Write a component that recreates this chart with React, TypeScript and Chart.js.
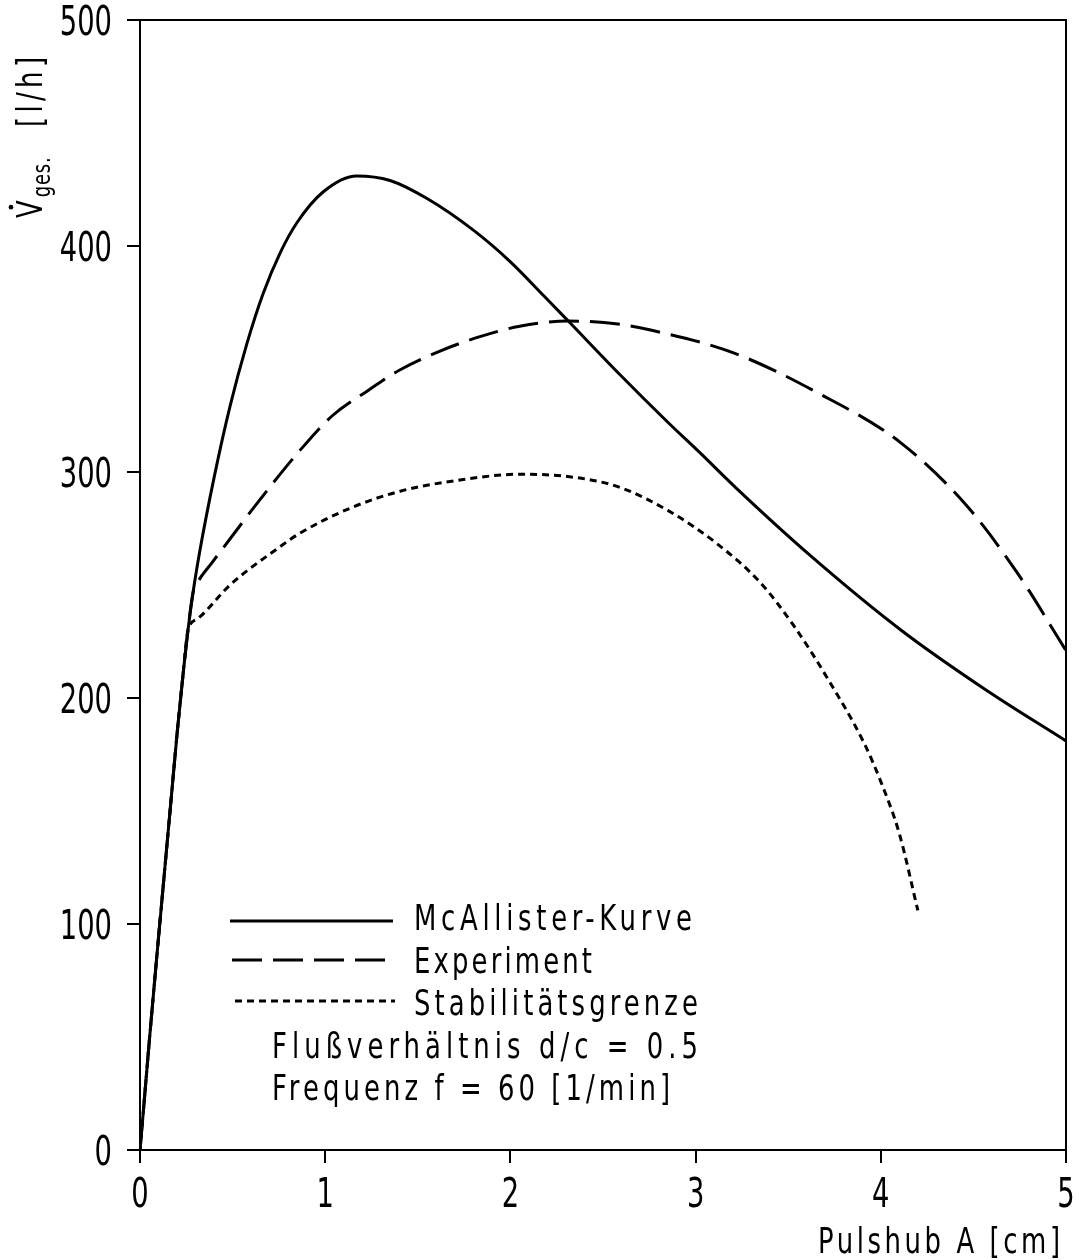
import React, { useEffect, useRef } from "react";
import { Chart, registerables } from "chart.js";

Chart.register(...registerables);

const FONT = '"DejaVu Sans Condensed", "DejaVu Sans", sans-serif';

const xTickValues = [0, 1, 2, 3, 4, 5];
const xTickLabels = ["0", "1", "2", "3", "4", "5"];
const yTickValues = [0, 100, 200, 300, 400, 500];
const yTickLabels = ["0", "100", "200", "300", "400", "500"];

const mcAllisterX = [0, 0.02, 0.05, 0.09, 0.13, 0.17, 0.2, 0.232, 0.259, 0.286, 0.324, 0.4, 0.486, 0.578, 0.665, 0.757, 0.849, 0.99, 1.17, 1.35, 1.55, 1.8, 2.0, 2.18, 2.31, 2.58, 2.85, 3.03, 3.205, 3.62, 4.11, 4.56, 5.0];
const mcAllisterY = [0, 19, 48, 85, 121, 157, 184, 210, 230, 246.5, 265.5, 297.5, 329, 357, 379, 397, 410.5, 424, 431, 429, 421, 407, 393, 378, 367, 344, 322, 308, 294, 263, 230, 204, 181];

const experimentX = [0, 0.02, 0.05, 0.09, 0.13, 0.17, 0.2, 0.232, 0.259, 0.286, 0.31, 0.39, 0.45, 0.65, 0.865, 1.04, 1.23, 1.4, 1.62, 1.84, 2.05, 2.31, 2.58, 2.757, 3.205, 3.66, 4.11, 4.47, 4.74, 5.0];
const experimentY = [0, 19, 48, 85, 121, 157, 184, 210, 230, 246.5, 251, 260, 266.5, 288, 309.7, 325, 336, 345, 353.5, 360, 364.5, 366.8, 365.5, 362.8, 352.7, 335, 312.8, 284.5, 255, 221];

const stabilityX = [0, 0.02, 0.05, 0.09, 0.13, 0.17, 0.2, 0.232, 0.259, 0.31, 0.486, 0.757, 0.865, 1.135, 1.405, 1.73, 2.05, 2.31, 2.58, 2.85, 3.12, 3.35, 3.53, 3.71, 3.91, 4.0, 4.1, 4.2];
const stabilityY = [0, 19, 48, 85, 121, 157, 184, 210, 230, 235, 250, 267, 273, 284, 291.5, 296.5, 299, 298, 293.5, 283, 268, 251, 232, 209, 180, 163, 140, 106];

const seriesNames = ["McAllister-Kurve", "Experiment", "Stabilitätsgrenze"];
const seriesDashes = [[], [30, 11], [7, 5]];
const noteLines = ["Flußverhältnis d/c = 0.5", "Frequenz f = 60 [1/min]"];
const xAxisTitle = "Pulshub A [cm]";
const yAxisMain = "V";
const yAxisSub = "ges.";
const yAxisUnit = "[l/h]";

function pts(xs: number[], ys: number[]) {
  return xs.map((x, i) => ({ x, y: ys[i] }));
}

// draw text horizontally compressed by sx, spread to targetW (if given)
function drawText(
  ctx: CanvasRenderingContext2D,
  text: string,
  x: number,
  y: number,
  sx: number,
  targetW?: number,
  align: "left" | "right" | "center" = "left"
) {
  ctx.save();
  (ctx as any).letterSpacing = "0px";
  ctx.textAlign = "left";
  const w = ctx.measureText(text).width;
  let ls = 0;
  if (targetW) ls = (targetW / sx - w) / Math.max(1, text.length - 1);
  const total = (w + ls * (text.length - 1)) * sx;
  let x0 = x;
  if (align === "right") x0 = x - total;
  if (align === "center") x0 = x - total / 2;
  ctx.translate(x0, y);
  ctx.scale(sx, 1);
  (ctx as any).letterSpacing = ls + "px";
  ctx.fillText(text, 0, 0);
  ctx.restore();
}

const decorPlugin = {
  id: "decor",
  afterDraw(chart: any) {
    const ctx: CanvasRenderingContext2D = chart.ctx;
    const a = chart.chartArea;
    const xs = chart.scales.x;
    const ys = chart.scales.y;
    ctx.save();
    // frame top & right
    ctx.strokeStyle = "#000";
    ctx.lineWidth = 2;
    ctx.setLineDash([]);
    ctx.beginPath();
    ctx.moveTo(a.left, a.top);
    ctx.lineTo(a.right, a.top);
    ctx.lineTo(a.right, a.bottom);
    ctx.stroke();

    ctx.fillStyle = "#000";
    ctx.textBaseline = "alphabetic";

    // tick labels (positions from the chart's scales)
    ctx.font = "40px " + FONT;
    yTickValues.forEach((v, i) => {
      const py = ys.getPixelForValue(v);
      drawText(ctx, yTickLabels[i], 112, py + 15, 0.76, undefined, "right");
    });
    xTickValues.forEach((v, i) => {
      const px = xs.getPixelForValue(v);
      drawText(ctx, xTickLabels[i], px, a.bottom + 57, 0.76, undefined, "center");
    });

    // legend
    const legendRows = [
      { y: 921, x0: 230, x1: 393, textBase: 930, tx: 414, tw: 278 },
      { y: 960, x0: 232, x1: 393, textBase: 973, tx: 414, tw: 178 },
      { y: 1001, x0: 235, x1: 395, textBase: 1015, tx: 414, tw: 284 },
    ];
    ctx.font = "36px " + FONT;
    legendRows.forEach((r, i) => {
      ctx.lineWidth = 3;
      ctx.setLineDash(seriesDashes[i]);
      ctx.beginPath();
      ctx.moveTo(r.x0, r.y);
      ctx.lineTo(r.x1, r.y);
      ctx.stroke();
      ctx.setLineDash([]);
      drawText(ctx, seriesNames[i], r.tx, r.textBase, 0.8, r.tw);
    });
    drawText(ctx, noteLines[0], 272, 1058, 0.8, 426);
    drawText(ctx, noteLines[1], 272, 1100, 0.8, 398);

    // x axis title
    drawText(ctx, xAxisTitle, 818, 1253, 0.8, 242);

    // y axis title (rotated)
    ctx.translate(42, 218);
    ctx.rotate(-Math.PI / 2);
    ctx.font = "36px " + FONT;
    drawText(ctx, yAxisMain, 0, 0, 0.8);
    const wV = ctx.measureText(yAxisMain).width * 0.8;
    ctx.beginPath();
    ctx.arc(wV / 2 + 2, -31, 2.3, 0, Math.PI * 2);
    ctx.fill();
    ctx.font = "25px " + FONT;
    drawText(ctx, yAxisSub, wV + 3, 8, 0.8, 40);
    ctx.font = "36px " + FONT;
    drawText(ctx, yAxisUnit, 91, 0, 0.8, 70);
    ctx.restore();
  },
};

export default function App() {
  const ref = useRef<HTMLCanvasElement | null>(null);
  useEffect(() => {
    if (!ref.current) return;
    const zeroPad = (s: any) => {
      s.paddingTop = 0;
      s.paddingBottom = 0;
      s.paddingLeft = 0;
      s.paddingRight = 0;
    };
    const line = (i: number, xs: number[], ys: number[]) => ({
      label: seriesNames[i],
      data: pts(xs, ys),
      borderColor: "#000",
      borderWidth: 3,
      borderDash: seriesDashes[i],
      pointRadius: 0,
      cubicInterpolationMode: "monotone",
      fill: false,
    });
    const chart = new Chart(ref.current, {
      type: "line",
      data: {
        datasets: [
          line(0, mcAllisterX, mcAllisterY),
          line(1, experimentX, experimentY),
          line(2, stabilityX, stabilityY),
        ],
      },
      options: {
        animation: false,
        responsive: false,
        devicePixelRatio: 1,
        layout: { padding: { top: 20, right: 13, left: 0, bottom: 0 } },
        plugins: { legend: { display: false }, tooltip: { enabled: false }, title: { display: false } },
        scales: {
          x: {
            type: "linear",
            min: 0,
            max: 5,
            afterBuildTicks: (s: any) => {
              s.ticks = xTickValues.map((v) => ({ value: v }));
            },
            afterFit: (s: any) => {
              s.height = 110;
              zeroPad(s);
            },
            ticks: { display: false },
            grid: { drawOnChartArea: false, drawTicks: true, tickLength: 13, color: "#000", lineWidth: 2 },
            border: { color: "#000", width: 2 },
          },
          y: {
            type: "linear",
            min: 0,
            max: 500,
            afterBuildTicks: (s: any) => {
              s.ticks = yTickValues.map((v) => ({ value: v }));
            },
            afterFit: (s: any) => {
              s.width = 140;
              zeroPad(s);
            },
            ticks: { display: false },
            grid: { drawOnChartArea: false, drawTicks: true, tickLength: 13, color: "#000", lineWidth: 2 },
            border: { color: "#000", width: 2 },
          },
        },
      },
      plugins: [decorPlugin],
    } as any);
    return () => chart.destroy();
  }, []);
  return (
    <div style={{ position: "absolute", left: 0, top: 0, width: 1079, height: 1260, background: "#fff" }}>
      <canvas ref={ref} width={1079} height={1260} style={{ width: 1079, height: 1260, display: "block" }} />
    </div>
  );
}
